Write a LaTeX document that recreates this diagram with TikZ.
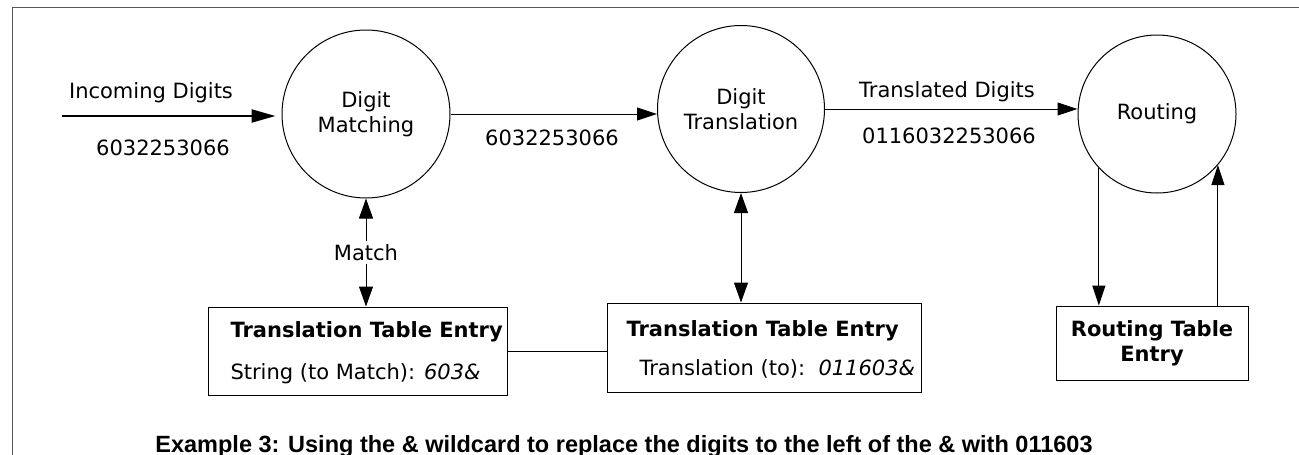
\documentclass[tikz,border=0pt]{standalone}
\usepackage{fontspec}
\setmainfont{DejaVu Sans}
\newfontfamily\capfont{Liberation Sans}
\usepackage{tikz}
\usetikzlibrary{positioning,arrows.meta,calc}

\begin{document}
\begin{tikzpicture}[x=1pt,y=-1pt,
  lbl/.style={font=\fontsize{21}{24.5}\selectfont},
  head/.style={font=\bfseries\fontsize{21}{25}\selectfont},
  proc/.style={lbl,circle,draw,line width=1pt,inner sep=0pt,align=center},
  entry/.style={rectangle,draw,line width=1pt,inner sep=0pt},
  flow/.style={line width=1pt,-{Triangle[length=20pt,width=13pt]}},
  both/.style={line width=1pt,{Triangle[length=20pt,width=14pt]}-{Triangle[length=20pt,width=14pt]}}]
  \useasboundingbox (0,0) rectangle (1299,455);
  % frame, open to the right and at the bottom
  \draw[black!65,line width=1pt] (12,455) -- (12,7) -- (1299,7);

  % the three processes
  \node[proc,minimum size=168pt] (dm) at (366,114) {Digit\\Matching};
  \node[proc,minimum size=167pt] (dt) at (741,109) {Digit\\Translation};
  \node[proc,minimum size=158pt] (rt) at (1157,114) {Routing};

  % table entries
  \node[entry,minimum width=299pt,minimum height=88pt] (tte1) at (357.5,351) {};
  \node[entry,minimum width=314pt,minimum height=89pt] (tte2) at (764,347.5) {};
  \node[entry,head,align=center,minimum width=192pt,minimum height=74pt] (rte) at (1152,343) {Routing Table\\Entry};
  \node[head,anchor=base west] (tte1a) at (227,337) {Translation Table Entry};
  \node[lbl,anchor=base west] (tte1b) at (227,379) {String (to Match): \textit{603\&}};
  \node[head,anchor=base west] (tte2a) at (623,336) {Translation Table Entry};
  \node[lbl,anchor=base west] (tte2b) at (636,375) {Translation (to):\ \ \textit{011603\&}};

  % digits flowing through
  \coordinate (src) at (62,116);
  \draw[flow,line width=2pt,-{Triangle[length=24pt,width=13pt]},shorten >=6pt] (src) -- (src -| dm.west);
  \node[lbl,anchor=base] (inlbl) at (151,98) {Incoming Digits};
  \node[lbl,anchor=base] (innum) at (163,155) {6032253066};
  \draw[flow] (dm.east) -- (dm.east -| dt.west);
  \node[lbl,anchor=base] (midnum) at (552,145) {6032253066};
  \draw[flow] (dt.east) -- (dt.east -| rt.west);
  \node[lbl,anchor=base] (trlbl) at (947,97) {Translated Digits};
  \node[lbl,anchor=base] (trnum) at (949,143) {0116032253066};

  % lookups
  \draw[both] (dm.south) -- (dm.south |- tte1.north)
    node[midway,lbl,fill=white,inner sep=3pt] (matchlbl) {Match};
  \draw[both] (dt.south) -- (dt.south |- tte2.north);
  \draw[line width=1pt] (tte1.east) -- (tte1.east -| tte2.west);
  \draw[flow] (rt.223) -- (rt.223 |- rte.north);
  \draw[flow] (rt.320 |- rte.north) -- (rt.320);

  \node[font=\capfont\bfseries\fontsize{23.5}{28}\selectfont,anchor=base] (cap) at (624,452)
    {Example 3: Using the \& wildcard to replace the digits to the left of the \& with 011603};
\end{tikzpicture}
\end{document}
